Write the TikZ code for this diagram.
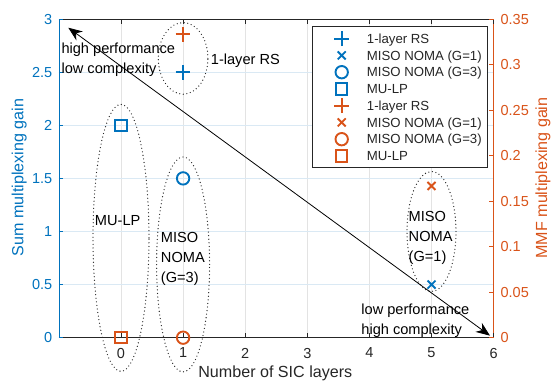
\documentclass[tikz,border=0pt]{standalone}
\usepackage{fontspec}
\setmainfont{Liberation Sans}
\usetikzlibrary{positioning}
\usetikzlibrary{shapes}
\usetikzlibrary{arrows.meta}
\definecolor{mblue}{HTML}{0072BD}
\definecolor{morange}{HTML}{D95319}
\definecolor{axgrey}{HTML}{262626}
\definecolor{gridx}{HTML}{E3E3E3}
\definecolor{gridy}{HTML}{DAE9F4}
\tikzset{
	every node/.style={inner sep=0pt, outer sep=0pt},
	mk/.style={draw, line width=1.9pt, node contents={}},
	plusmk/.style={mk, cross out, rotate=45, minimum size=10.4pt},
	xmk/.style={mk, cross out, minimum size=8pt},
	omk/.style={mk, circle, minimum size=12.4pt},
	sqmk/.style={mk, rectangle, minimum size=11.4pt},
	ring/.style={ellipse, draw=axgrey, line width=1.3pt, line cap=round, dash pattern=on 0pt off 3.6pt, node contents={}},
	note/.style={align=left, font=\fontsize{14.6}{20}\selectfont},
	ticklab/.style={font=\fontsize{14.5}{17}\selectfont},
	axlab/.style={font=\fontsize{16.1}{19}\selectfont},
	legtext/.style={axgrey, font=\fontsize{13.2}{16}\selectfont}
}

\begin{document}
\begin{tikzpicture}[x=62.1pt, y=106.2pt]
	\useasboundingbox (-1.9485,-0.4077) rectangle (6.9243,3.1798);
	% grid
	\foreach \gx in {0,...,5} \draw[gridx, line width=0.6pt] (\gx,0) -- (\gx,3);
	\foreach \gy in {0.5,1,1.5,2,2.5} \draw[gridy, line width=0.6pt] (-1,\gy) -- (6,\gy);
	
	% axes
	\draw[axgrey, line width=0.8pt] (-1,0) -- (6,0) (-1,3) -- (6,3);
	\draw[mblue, line width=0.8pt] (-1,0) -- (-1,3);
	\draw[morange, line width=0.8pt] (6,0) -- (6,3);
	\foreach \tx in {0,...,6} {
		\draw[axgrey, line width=0.8pt] (\tx,0) -- ++(0,4.5pt) (\tx,3) -- ++(0,-4.5pt);
		\node[ticklab, axgrey, anchor=north] at ([yshift=-10.3pt]\tx,0) {\tx};
	}
	\foreach \ty in {0,0.5,1,1.5,2,2.5,3} {
		\draw[mblue, line width=0.8pt] (-1,\ty) -- ++(4.5pt,0);
		\node[ticklab, mblue, anchor=east] at ([xshift=-6.6pt]-1,\ty) {\ty};
	}
	\foreach \v [count=\k from 0] in {0,0.05,0.1,0.15,0.2,0.25,0.3,0.35} {
		\draw[morange, line width=0.8pt] (6,{\k*3/7}) -- ++(-4.5pt,0);
		\node[ticklab, morange, anchor=west] at ([xshift=7pt]6,{\k*3/7}) {\v};
	}
	\node[axlab, axgrey, anchor=base] (xlab) at (2.485,-0.3776) {Number of SIC layers};
	\node[axlab, mblue, rotate=90, anchor=base] (ylab) at (-1.573,1.508) {Sum multiplexing gain};
	\node[axlab, morange, rotate=90, anchor=base] (y2lab) at (6.863,1.504) {MMF multiplexing gain};
	
	% groups
	\node (rsring) at (1,2.63) [ring, minimum width=49.6pt, minimum height=71.6pt];
	\node (lpring) at (0,0.94) [ring, minimum width=56pt, minimum height=267pt];
	\node (g3ring) at (1,0.69) [ring, minimum width=53pt, minimum height=215pt];
	\node (g1ring) at (5,1.0) [ring, minimum width=49pt, minimum height=120pt];
	
	\node[note, right=3pt of rsring, yshift=-2pt] (rsnote) {1-layer RS};
	\node[note, anchor=base west] (lpnote) at (-0.419,1.055) {MU-LP};
	\node[note, anchor=north west] (g3note) at (0.644,0.989) {MISO\\NOMA\\(G=3)};
	\node[note, anchor=north west] (g1note) at (4.633,1.186) {MISO\\NOMA\\(G=1)};
	\node[note, anchor=north west] (hpnote) at (-0.958,2.772) {high performance\\low complexity};
	\node[note, anchor=north west] (lpnote2) at (3.871,0.317) {low performance\\high complexity};
	
	% trade-off
	\coordinate (hp) at (-0.849,2.919);
	\coordinate (lp) at (5.942,0.019);
	\path[line width=0.8pt] (hp) edge[{Stealth[length=14pt, width=11pt, inset=4.5pt]}-{Stealth[length=14pt, width=11pt, inset=4.5pt]}] (lp);
	
	% points
	\node (rsb) at (1,2.5) [plusmk, mblue];
	\node (g1b) at (5,0.5) [xmk, mblue];
	\node (g3b) at (1,1.5) [omk, mblue];
	\node (lpb) at (0,2) [sqmk, mblue];
	\node (rso) at (1,{1/3*3/0.35}) [plusmk, morange];
	\node (g1o) at (5,{1/6*3/0.35}) [xmk, morange];
	\node (g3o) at (1,0) [omk, morange];
	\node (lpo) at (0,0) [sqmk, morange];
	
	% legend
	\node[draw=axgrey, fill=white, line width=0.6pt, minimum width=174.6pt, minimum height=140.6pt, anchor=north west] (legend) at (3.087,2.928) {};
	\foreach \m/\c/\t [count=\i from 0] in {plusmk/mblue/1-layer RS, xmk/mblue/MISO NOMA (G=1), omk/mblue/MISO NOMA (G=3), sqmk/mblue/MU-LP, plusmk/morange/1-layer RS, xmk/morange/MISO NOMA (G=1), omk/morange/MISO NOMA (G=3), sqmk/morange/MU-LP} {
		\node (leg\i) at (3.554,{2.8154-0.1577*\i}) [\m, \c];
		\node[legtext, anchor=base west] (legt\i) at ([yshift=-4.7pt]3.96,{2.8154-0.1577*\i}) {\t};
	}
\end{tikzpicture}
\end{document}
